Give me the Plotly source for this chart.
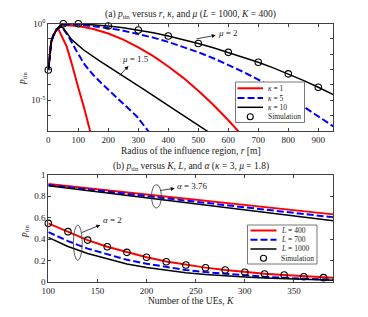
import plotly.graph_objects as go

# ---------------- Panel (a): p_tin vs r (log scale, values stored as log10) -------------
r_k1_mu15 = [0, 5, 10, 17, 28, 35, 45, 55, 61, 75, 89, 103, 117, 128, 140]
lg_k1_mu15 = [-3.03, -1.83, -1.17, -0.78, -0.36, -0.42, -0.8, -1.2, -1.49, -2.4, -3.47, -4.4, -5.33, -6.15, -7.05]

r_k5_mu15 = [0, 5, 10, 17, 28, 40, 50, 67, 80, 95, 122, 150, 183, 222, 256, 295, 335]
lg_k5_mu15 = [-3.03, -1.83, -1.17, -0.78, -0.4, -0.22, -0.35, -0.83, -1.3, -1.82, -2.7, -3.35, -4.0, -4.7, -5.3, -6.05, -7.05]

r_k10_mu15 = [0, 5, 10, 17, 28, 40, 50, 78, 117, 172, 228, 267, 317, 428, 533]
lg_k10_mu15 = [-3.03, -1.83, -1.17, -0.78, -0.4, -0.2, -0.3, -1.05, -1.71, -2.45, -3.14, -3.6, -4.27, -5.7, -7.05]

r_k1_mu2 = [0, 5, 10, 17, 28, 40, 50, 100, 150, 200, 250, 300, 350, 400, 450, 500, 550, 600, 635]
lg_k1_mu2 = [-3.03, -1.83, -1.17, -0.78, -0.38, -0.17, -0.1, -0.16, -0.36, -0.65, -1.05, -1.55, -2.12, -2.8, -3.54, -4.38, -5.29, -6.3, -7.05]

r_mu2 = [0, 5, 10, 17, 28, 40, 50, 100, 150, 200, 250, 300, 350, 400, 450, 500, 550, 600, 650, 700, 750, 800, 850, 900, 950]
lg_k5_mu2 = [-3.03, -1.83, -1.17, -0.78, -0.38, -0.15, -0.07, -0.07, -0.17, -0.3, -0.47, -0.68, -0.92, -1.2, -1.52, -1.87, -2.26, -2.68, -3.15, -3.65, -4.2, -4.78, -5.4, -6.05, -6.7]
lg_k10_mu2 = [-3.03, -1.83, -1.17, -0.78, -0.37, -0.12, -0.02, -0.02, -0.07, -0.16, -0.28, -0.42, -0.6, -0.81, -1.04, -1.3, -1.58, -1.88, -2.19, -2.52, -2.89, -3.28, -3.7, -4.15, -4.63]

r_sim = [0, 50, 100, 200, 300, 400, 500, 600, 700, 800, 900]
lg_sim_a = [-3.03, -0.02, -0.02, -0.16, -0.42, -0.81, -1.3, -1.88, -2.52, -3.28, -4.15]

# ---------------- Panel (b): p_tin vs K ----------------
K_line = [100, 120, 140, 160, 180, 200, 220, 240, 260, 280, 300, 320, 340, 360, 380, 390]
p_L400_a2 = [0.547, 0.469, 0.39, 0.328, 0.275, 0.229, 0.19, 0.158, 0.132, 0.11, 0.09, 0.075, 0.062, 0.051, 0.042, 0.038]
p_L700_a2 = [0.465, 0.38, 0.31, 0.255, 0.205, 0.168, 0.137, 0.11, 0.09, 0.073, 0.058, 0.046, 0.036, 0.028, 0.021, 0.018]
p_L1000_a2 = [0.415, 0.33, 0.265, 0.215, 0.165, 0.133, 0.107, 0.085, 0.068, 0.054, 0.043, 0.034, 0.027, 0.021, 0.016, 0.014]

K_hi = [100, 150, 200, 250, 300, 350, 390]
p_L400_a376 = [0.915, 0.867, 0.818, 0.769, 0.72, 0.67, 0.631]
p_L700_a376 = [0.907, 0.855, 0.802, 0.75, 0.697, 0.645, 0.603]
p_L1000_a376 = [0.899, 0.843, 0.786, 0.729, 0.672, 0.617, 0.572]

K_sim = [100, 120, 140, 160, 180, 200, 220, 240, 260, 280, 300, 320, 340, 360, 380]
p_sim_b = [0.547, 0.469, 0.39, 0.328, 0.275, 0.229, 0.187, 0.156, 0.131, 0.11, 0.088, 0.072, 0.063, 0.047, 0.038]

# ---------------- styling ----------------
OFF = 8  # default page margin of the html body
W, H = 368 - OFF, 317 - OFF
FONT = "Liberation Serif"
RED, BLUE, BLACK = "#ff0000", "#0000ff", "#000000"
AX = "#404040"


def px(x):
    return (x - OFF) / W


def py(y):
    return 1 - (y - OFF) / H


def tenpow(vals):
    return [10 ** v for v in vals]


fig = go.Figure()

lw_c = 2.0
lw_k = 1.5
dash_b = "7px,3px"

# panel (a) traces
for rr, lg in [(r_k1_mu15, lg_k1_mu15), (r_k1_mu2, lg_k1_mu2)]:
    fig.add_trace(go.Scatter(x=rr, y=tenpow(lg), mode="lines", line=dict(color=RED, width=lw_c),
                             xaxis="x", yaxis="y", showlegend=False))
for rr, lg in [(r_k5_mu15, lg_k5_mu15), (r_mu2, lg_k5_mu2)]:
    fig.add_trace(go.Scatter(x=rr, y=tenpow(lg), mode="lines", line=dict(color=BLUE, width=lw_c, dash=dash_b),
                             xaxis="x", yaxis="y", showlegend=False))
for rr, lg in [(r_k10_mu15, lg_k10_mu15), (r_mu2, lg_k10_mu2)]:
    fig.add_trace(go.Scatter(x=rr, y=tenpow(lg), mode="lines", line=dict(color=BLACK, width=lw_k),
                             xaxis="x", yaxis="y", showlegend=False))
fig.add_trace(go.Scatter(x=r_sim, y=tenpow(lg_sim_a), mode="markers", cliponaxis=False,
                         marker=dict(symbol="circle-open", size=6.5, color=BLACK, line=dict(width=1.1)),
                         xaxis="x", yaxis="y", showlegend=False))

# panel (b) traces
fig.add_trace(go.Scatter(x=K_hi, y=p_L400_a376, mode="lines", line=dict(color=RED, width=lw_c), xaxis="x2", yaxis="y2", showlegend=False))
fig.add_trace(go.Scatter(x=K_line, y=p_L400_a2, mode="lines", line=dict(color=RED, width=lw_c), xaxis="x2", yaxis="y2", showlegend=False))
fig.add_trace(go.Scatter(x=K_hi, y=p_L700_a376, mode="lines", line=dict(color=BLUE, width=lw_c, dash=dash_b), xaxis="x2", yaxis="y2", showlegend=False))
fig.add_trace(go.Scatter(x=K_line, y=p_L700_a2, mode="lines", line=dict(color=BLUE, width=lw_c, dash=dash_b), xaxis="x2", yaxis="y2", showlegend=False))
fig.add_trace(go.Scatter(x=K_hi, y=p_L1000_a376, mode="lines", line=dict(color=BLACK, width=lw_k), xaxis="x2", yaxis="y2", showlegend=False))
fig.add_trace(go.Scatter(x=K_line, y=p_L1000_a2, mode="lines", line=dict(color=BLACK, width=lw_k), xaxis="x2", yaxis="y2", showlegend=False))
fig.add_trace(go.Scatter(x=K_sim, y=p_sim_b, mode="markers", cliponaxis=False,
                         marker=dict(symbol="circle-open", size=6.5, color=BLACK, line=dict(width=1.1)),
                         xaxis="x2", yaxis="y2", showlegend=False))

axis_common = dict(showline=True, linecolor=AX, linewidth=1, mirror="ticks", ticks="inside",
                   ticklen=3, tickcolor=AX, showgrid=False, zeroline=False, automargin=False,
                   tickfont=dict(family=FONT, size=9, color="#222"))

top_dec_all = [-7, -6, -5, -4, -3, -2, -1, 0]
top_dec_lab = [-5, 0]
top_dec_text = ["10<sup>-5</sup>", "10<sup>0</sup>"]

fig.update_layout(
    template="none",
    width=W, height=H, autosize=False,
    margin=dict(l=0, r=0, t=0, b=0, pad=0),
    paper_bgcolor="white", plot_bgcolor="white",
    showlegend=False,
    font=dict(family=FONT, size=9, color="#222"),
    xaxis=dict(domain=[px(48.3), px(333.3)], range=[0, 950], anchor="y",
               tickvals=[0, 100, 200, 300, 400, 500, 600, 700, 800, 900], **axis_common),
    yaxis=dict(domain=[py(131), py(23.5)], type="log", range=[-7, 0], anchor="x",
               tickvals=[10 ** d for d in top_dec_lab], ticktext=top_dec_text,
               minor=dict(tickvals=[10 ** d for d in top_dec_all], ticks="inside", ticklen=3,
                          tickcolor=AX, showgrid=False),
               **axis_common),
    xaxis2=dict(domain=[px(48.3), px(333.3)], range=[100, 390], anchor="y2",
                tickvals=[100, 150, 200, 250, 300, 350], **axis_common),
    yaxis2=dict(domain=[py(281.7), py(175)], range=[0, 1], anchor="x2",
                tickvals=[0, 0.2, 0.4, 0.6, 0.8, 1], ticktext=["0", "0.2", "0.4", "0.6", "0.8", "1"], **axis_common),
)

ann = []


def text_px(x, y, s, size=9.5, angle=0, xanchor="center"):
    ann.append(dict(x=px(x), y=py(y), xref="paper", yref="paper", text=s, showarrow=False,
                    font=dict(family=FONT, size=size, color="#222"), textangle=angle,
                    xanchor=xanchor, yanchor="middle"))


# titles and axis titles
text_px(190.8, 15, "(a) <i>p</i><sub>tin</sub> versus <i>r</i>, <i>κ</i>, and <i>μ</i> (<i>L</i> = 1000, <i>K</i> = 400)", 9.5)
text_px(190.8, 150.5, "Radius of the influence region, <i>r</i> [m]", 9.5)
text_px(22, 79, "<i>p</i><sub>tin</sub>", 9.5, angle=-90)
text_px(190.8, 166.5, "(b) <i>p</i><sub>tin</sub> versus <i>K</i>, <i>L</i>, and <i>α</i> (<i>κ</i> = 3, <i>μ</i> = 1.8)", 9.5)
text_px(190.8, 301, "Number of the UEs, <i>K</i>", 9.5)
text_px(24, 232, "<i>p</i><sub>tin</sub>", 9.5, angle=-90)

shapes = []
ELL = "#333333"


def arrow_label(xref, yref, tail, label_pos, label):
    # arrow from the ellipse (tail) to the label; head drawn at the label side
    ann.append(dict(x=tail[0], y=tail[1], ax=label_pos[0], ay=label_pos[1],
                    xref=xref, yref=yref, axref=xref, ayref=yref,
                    text=label, showarrow=True, arrowside="start", arrowhead=2, startarrowhead=2,
                    startarrowsize=1, arrowsize=1, arrowwidth=0.8, arrowcolor="#111",
                    startstandoff=1, font=dict(family=FONT, size=9, color="#222")))


# panel (a) ellipses / arrows / labels
shapes.append(dict(type="circle", xref="x", yref="y", x0=61, x1=261, y0=-4.05, y1=-3.25,
                   line=dict(color=ELL, width=0.8)))
shapes.append(dict(type="circle", xref="x", yref="y", x0=440, x1=495, y0=-4.32, y1=-0.5,
                   line=dict(color=ELL, width=0.8)))
arrow_label("x", "y", (238, -3.38), (290, -2.3), "<i>μ</i> = 1.5")
arrow_label("x", "y", (494, -1.0), (600, -0.61), "<i>μ</i> = 2")

# panel (b) ellipses / arrows / labels
shapes.append(dict(type="circle", xref="x2", yref="y2", x0=205, x1=215, y0=0.69, y1=0.91,
                   line=dict(color=ELL, width=0.8)))
shapes.append(dict(type="circle", xref="x2", yref="y2", x0=125.5, x1=134.5, y0=0.2, y1=0.53,
                   line=dict(color=ELL, width=0.8)))
arrow_label("x2", "y2", (214, 0.855), (247, 0.9), "<i>α</i> = 3.76")
arrow_label("x2", "y2", (134, 0.46), (165, 0.578), "<i>α</i> = 2")

# legends (drawn as boxes in paper space)
legend_a = ["<i>κ</i> = 1", "<i>κ</i> = 5", "<i>κ</i> = 10", "Simulation"]
legend_b = ["<i>L</i> = 400", "<i>L</i> = 700", "<i>L</i> = 1000", "Simulation"]
legend_styles = [(RED, lw_c, None), (BLUE, lw_c, "dash"), (BLACK, lw_k, None), None]


def draw_legend(box, rows_y, x_line, x_text, labels):
    x0, x1, y0, y1 = box
    shapes.append(dict(type="rect", xref="paper", yref="paper", x0=px(x0), x1=px(x1), y0=py(y1), y1=py(y0),
                       line=dict(color="#555", width=0.8), fillcolor="white", layer="above"))
    for lab, yy, st in zip(labels, rows_y, legend_styles):
        if st is None:
            cx = (x_line[0] + x_line[1]) / 2
            shapes.append(dict(type="circle", xref="paper", yref="paper",
                               x0=px(cx - 3), x1=px(cx + 3), y0=py(yy + 3), y1=py(yy - 3),
                               line=dict(color=BLACK, width=1.1), layer="above"))
        else:
            col, wdt, dsh = st
            shapes.append(dict(type="line", xref="paper", yref="paper", x0=px(x_line[0]), x1=px(x_line[1]),
                               y0=py(yy), y1=py(yy), layer="above",
                               line=dict(color=col, width=wdt, dash=dash_b if dsh else "solid")))
        ann.append(dict(x=px(x_text), y=py(yy), xref="paper", yref="paper", text=lab, showarrow=False,
                        xanchor="left", yanchor="middle", font=dict(family=FONT, size=7.5, color="#222")))


draw_legend((235.5, 304.5, 82, 122.5), [88.3, 98.0, 107.3, 116.7], (237.5, 263), 265.5, legend_a)
draw_legend((247.5, 317, 225, 264), [230.5, 239.7, 249, 258.3], (250.5, 276.5), 279, legend_b)

fig.update_layout(shapes=shapes, annotations=ann)
fig.write_html("out.html")
